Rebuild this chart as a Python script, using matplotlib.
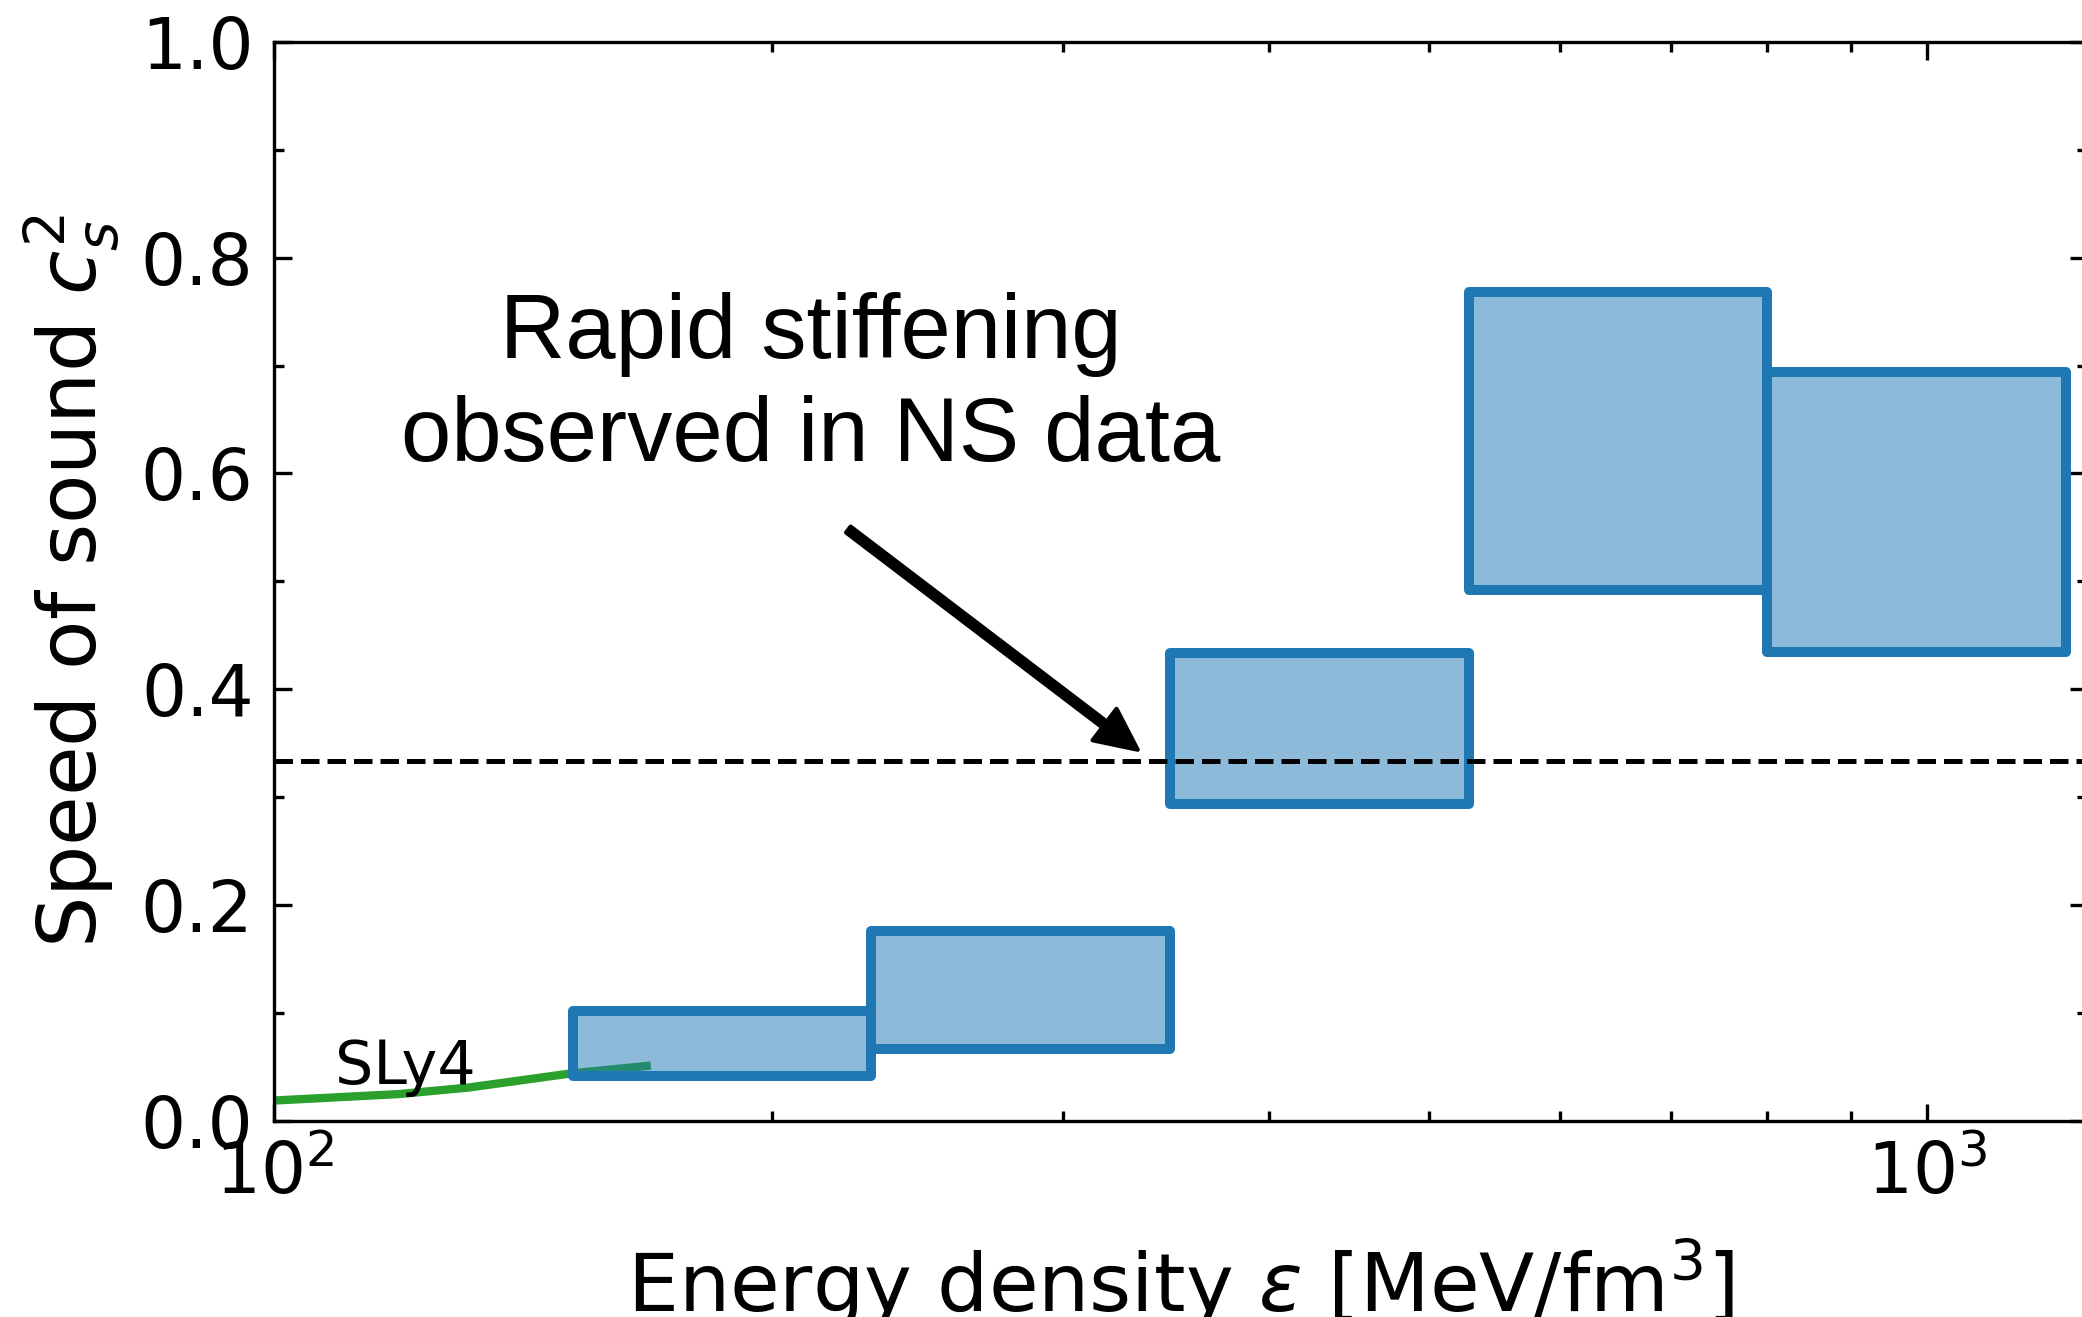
import numpy as np
import matplotlib
matplotlib.use('Agg')
import matplotlib.pyplot as plt
from matplotlib.colors import to_rgba

# bin edges in energy density [MeV/fm^3] and c_s^2 band per bin
eps_edges = [151.5, 229.7, 348.3, 528.0, 800.7, 1214.0]
cs2_low = [0.042, 0.067, 0.294, 0.492, 0.435]
cs2_high = [0.102, 0.176, 0.434, 0.768, 0.694]

# SLy4 crust/low density curve
sly4_eps = [100, 119, 131, 151, 168]
sly4_cs2 = [0.019, 0.025, 0.031, 0.044, 0.051]

conformal = 1.0 / 3.0


def main():
    fig = plt.figure(figsize=(6.94, 4.39), dpi=300)
    ax = fig.add_axes([0.1318, 0.1488, 0.8706, 0.8195])

    ax.plot(sly4_eps, sly4_cs2, color='tab:green', lw=2.0, zorder=1)
    ax.text(108.8, 0.034, 'SLy4', fontsize=14.5)

    for i in range(len(cs2_low)):
        ax.fill_between([eps_edges[i], eps_edges[i + 1]],
                        [cs2_low[i]] * 2, [cs2_high[i]] * 2,
                        facecolor=to_rgba('tab:blue', 0.5),
                        edgecolor='tab:blue', lw=2.4, zorder=2)

    ax.axhline(conformal, color='black', ls='--', lw=1.2, zorder=3)

    ax.annotate('', xy=(333, 0.344), xytext=(222.5, 0.548),
                arrowprops=dict(facecolor='black', edgecolor='black',
                                width=1.8, headwidth=9.5, headlength=10,
                                shrink=0.0), zorder=4)
    ax.text(0.296, 0.681, 'Rapid stiffening\nobserved in NS data',
            transform=ax.transAxes, ha='center', va='center',
            fontsize=21.7, family=['Liberation Sans', 'DejaVu Sans'],
            linespacing=1.27)

    ax.set_xscale('log')
    ax.set_xlim(100, 1250)
    ax.set_ylim(0, 1.0)
    ax.set_yticks(np.arange(0, 1.01, 0.2))
    ax.set_yticks(np.arange(0, 1.01, 0.1), minor=True)

    ax.tick_params(which='both', direction='in', top=True, right=True,
                   labelsize=17, width=0.8)
    ax.tick_params(which='major', length=4.2)
    ax.tick_params(which='minor', length=2.4)
    ax.tick_params(axis='y', pad=5.0)
    ax.tick_params(axis='x', pad=4.5)

    ax.set_xlabel(r'Energy density $\varepsilon$ [MeV/fm$^3$]', fontsize=19.4,
                  labelpad=6.5)
    ax.set_ylabel(r'Speed of sound $c_s^2$', fontsize=19.4, labelpad=4.0)

    fig.savefig('out.png', dpi=300)


if __name__ == '__main__':
    main()
